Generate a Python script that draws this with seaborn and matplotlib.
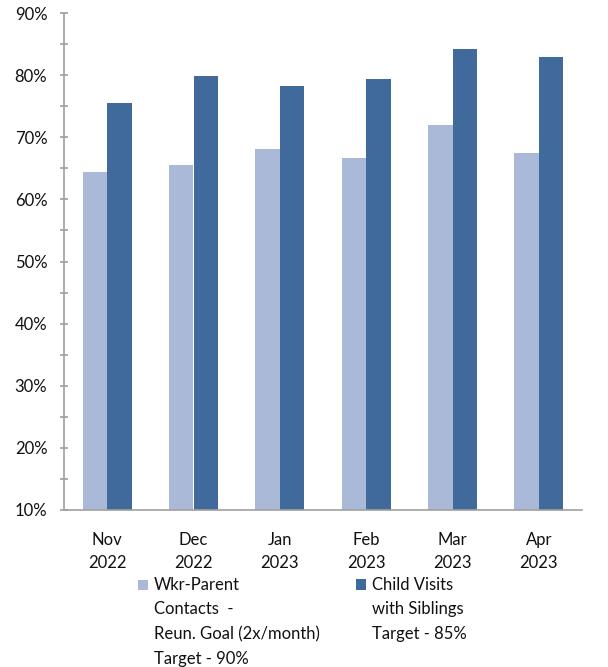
import matplotlib
matplotlib.use("Agg")
import matplotlib.pyplot as plt
import matplotlib.ticker as mticker
from matplotlib.patches import Patch
import seaborn as sns
import pandas as pd

months = ["Nov\n2022", "Dec\n2022", "Jan\n2023", "Feb\n2023", "Mar\n2023", "Apr\n2023"]
series_names = ["Wkr-Parent\nContacts  -\nReun. Goal (2x/month)\nTarget - 90%",
                "Child Visits\nwith Siblings\nTarget - 85%"]
wkr_parent = [64.4, 65.5, 68.1, 66.6, 71.9, 67.4]
child_visits = [75.5, 79.8, 78.2, 79.3, 84.2, 82.9]
colors = ["#AAB9D7", "#406A9B"]

df = pd.DataFrame({
    "month": months * 2,
    "series": [series_names[0]] * len(months) + [series_names[1]] * len(months),
    "value": wkr_parent + child_visits,
})

sns.set_theme(style="white")
plt.rcParams["font.family"] = ["Lato", "DejaVu Sans"]
FS = 12
LS = 1.65

fig = plt.figure(figsize=(6.08, 6.67), dpi=100)
ax = fig.add_axes([64 / 608, 1 - 510 / 667, (582 - 64) / 608, (510 - 13) / 667])

sns.barplot(data=df, x="month", y="value", hue="series", hue_order=series_names,
            order=months, palette=colors, width=0.57, gap=0, linewidth=0,
            saturation=1, ax=ax, legend=False)

ax.set_ylim(10, 90)
ax.set_xlim(-0.5, len(months) - 0.5)
ax.yaxis.set_major_locator(mticker.MultipleLocator(10))
ax.yaxis.set_minor_locator(mticker.MultipleLocator(5))
ax.yaxis.set_major_formatter(mticker.FuncFormatter(lambda v, p: f"{v:.0f}%"))
ax.set_xlabel("")
ax.set_ylabel("")

gray = "#A0A0A0"
for s in ["top", "right"]:
    ax.spines[s].set_visible(False)
for s in ["left", "bottom"]:
    ax.spines[s].set_color(gray)
    ax.spines[s].set_linewidth(1.2)

ax.tick_params(axis="y", which="both", direction="inout", length=6, width=1.2,
               color=gray, left=True, labelsize=FS, pad=9, labelcolor="#111111")
ax.tick_params(axis="x", which="both", length=0, labelsize=FS, pad=15.5, labelcolor="#111111")
for t in ax.get_xticklabels():
    t.set_linespacing(1.6)

# Legends (two columns, top aligned)
line_gap_pts = 24 * 72 / 100

def add_legend(label, color, x, y, nlines):
    leg = fig.legend(handles=[Patch(facecolor=color, edgecolor="none")], labels=[label],
                     loc="upper left", bbox_to_anchor=(x, y), bbox_transform=fig.transFigure,
                     frameon=False, fontsize=FS, handlelength=0.6, handleheight=0.6,
                     handletextpad=0.35, borderpad=0, borderaxespad=0)
    for t in leg.get_texts():
        t.set_linespacing(LS)
        t.set_color("#111111")
    h = leg.legend_handles[0]
    h.set_y(h.get_y() + (nlines - 1) / 2 * line_gap_pts + 1.0)
    return leg

add_legend(series_names[0], colors[0], 138 / 608, 1 - 577 / 667, 4)
add_legend(series_names[1], colors[1], 356 / 608, 1 - 577 / 667, 3)

fig.savefig("out.png", dpi=100)
